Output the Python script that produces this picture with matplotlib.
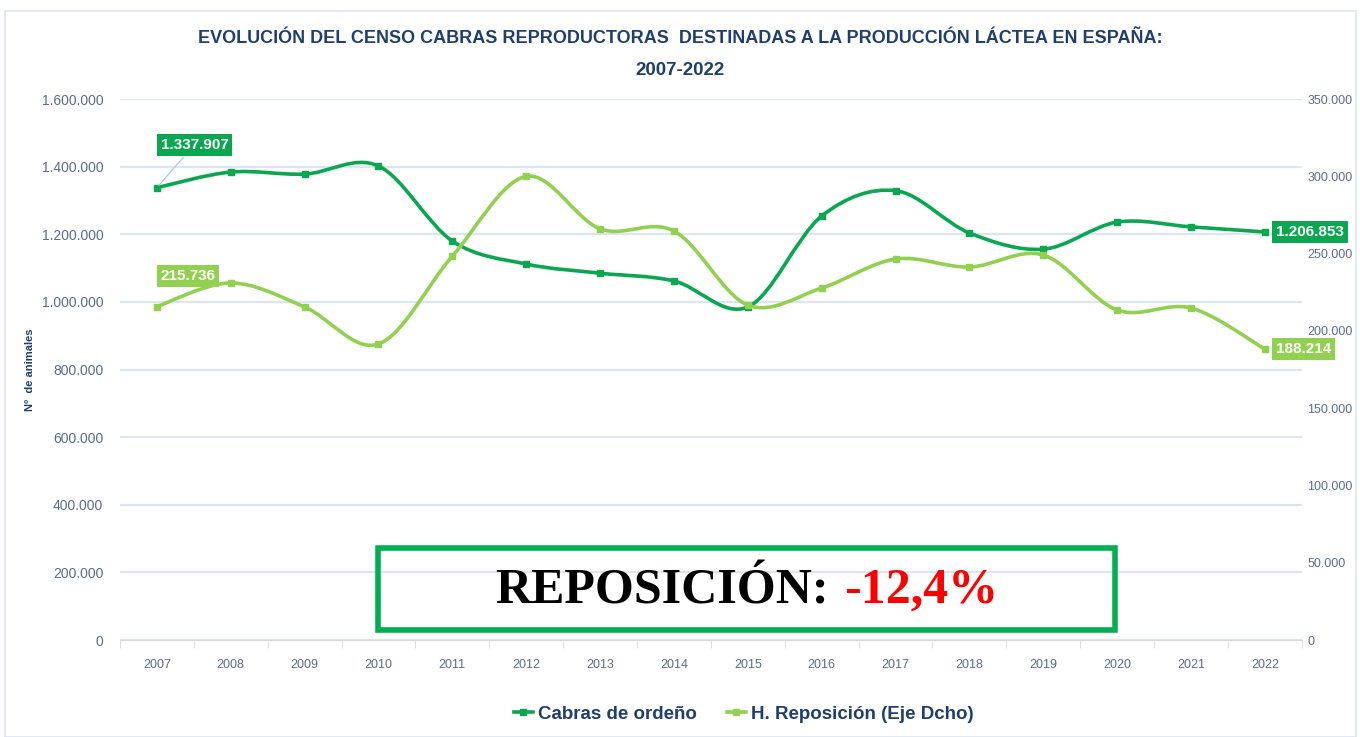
import numpy as np
import matplotlib
matplotlib.use('Agg')
import matplotlib.pyplot as plt
from matplotlib.path import Path
from matplotlib.patches import PathPatch, Rectangle
from matplotlib.lines import Line2D
from matplotlib.ticker import FuncFormatter, MultipleLocator, FixedLocator

years = ['2007', '2008', '2009', '2010', '2011', '2012', '2013', '2014',
         '2015', '2016', '2017', '2018', '2019', '2020', '2021', '2022']
cabras = [1337907, 1384000, 1378000, 1402000, 1180000, 1112000, 1085000, 1062000,
          985000, 1254000, 1329000, 1204000, 1156000, 1236000, 1222000, 1206853]
reposicion = [215736, 231000, 215500, 191500, 248400, 300000, 266000, 264600,
              216700, 227700, 246500, 241300, 249100, 213500, 214800, 188214]

DARK = '#0aa650'
LIGHT = '#92d050'
TXT = '#5b6b8a'
NAVY = '#1f3f6e'

plt.rcParams['font.family'] = ['Liberation Sans', 'DejaVu Sans']


def dots(v, pos=None):
    return f'{v:,.0f}'.replace(',', '.')


def smooth_path(x, y):
    # catmull-rom -> bezier, roughly what excel does with "smoothed line"
    n = len(x)
    verts = [(x[0], y[0])]
    codes = [Path.MOVETO]
    for i in range(n - 1):
        a = i - 1 if i > 0 else i
        d = i + 2 if i + 2 < n else i + 1
        c1 = (x[i] + (x[i + 1] - x[a]) / 6, y[i] + (y[i + 1] - y[a]) / 6)
        c2 = (x[i + 1] - (x[d] - x[i]) / 6, y[i + 1] - (y[d] - y[i]) / 6)
        verts += [c1, c2, (x[i + 1], y[i + 1])]
        codes += [Path.CURVE4] * 3
    return Path(verts, codes)


fig = plt.figure(figsize=(13.6, 7.37), dpi=100)
ax = fig.add_axes([0.0882, 0.1316, 0.869, 0.734])
ax2 = ax.twinx()

x = np.arange(len(years))

ax.add_patch(PathPatch(smooth_path(x, cabras), fill=False, edgecolor=DARK, lw=2.6, zorder=3))
ax.plot(x, cabras, 's', color=DARK, ms=5, zorder=4)
ax2.add_patch(PathPatch(smooth_path(x, reposicion), fill=False, edgecolor=LIGHT, lw=2.6, zorder=3))
ax2.plot(x, reposicion, 's', color=LIGHT, ms=5, zorder=4)

ax.set_xlim(-0.5, len(years) - 0.5)
ax.set_ylim(0, 1600000)
ax2.set_ylim(0, 350000)
ax.yaxis.set_major_locator(MultipleLocator(200000))
ax2.yaxis.set_major_locator(MultipleLocator(50000))
ax.yaxis.set_major_formatter(FuncFormatter(dots))
ax2.yaxis.set_major_formatter(FuncFormatter(dots))

ax.set_xticks(x)
ax.set_xticklabels(years)
ax.xaxis.set_minor_locator(FixedLocator(np.arange(-0.5, len(years), 1)))
ax.tick_params(axis='x', which='major', length=0, pad=14, labelsize=9, labelcolor=TXT)
ax.tick_params(axis='x', which='minor', length=6, color='#d9d9d9')
ax.tick_params(axis='y', length=0, pad=12, labelsize=10, labelcolor=TXT)
ax2.tick_params(axis='y', length=0, pad=4, labelsize=9, labelcolor=TXT)

ax.grid(axis='y', color='#dde5f2', lw=1.6)
ax.set_axisbelow(True)
for a in (ax, ax2):
    for s in ['top', 'right', 'left']:
        a.spines[s].set_visible(False)
ax2.spines['bottom'].set_visible(False)
ax.spines['bottom'].set_color('#d9d9d9')

fig.text(30 / 1360, 1 - 370 / 737, 'Nº  de animales', rotation=90, ha='center', va='center',
         fontsize=8, color=NAVY, fontweight='bold')

# data labels
ax.annotate(dots(cabras[0]), xy=(x[0], cabras[0]), xytext=(x[0] + 0.05, 1465000),
            ha='left', va='center', color='white', fontsize=11, fontweight='bold',
            bbox=dict(boxstyle='square,pad=0.25', fc=DARK, ec='none'),
            arrowprops=dict(arrowstyle='-', color='#9fc3e8', lw=0.8), zorder=5)
ax2.annotate(dots(reposicion[0]), xy=(x[0], reposicion[0]), xytext=(x[0] + 0.05, 235500),
             ha='left', va='center', color='white', fontsize=11, fontweight='bold',
             bbox=dict(boxstyle='square,pad=0.25', fc=LIGHT, ec='none'), zorder=5)
ax.annotate(dots(cabras[-1]), xy=(x[-1], cabras[-1]), xytext=(8, 0), textcoords='offset points',
            ha='left', va='center', color='white', fontsize=11, fontweight='bold',
            bbox=dict(boxstyle='square,pad=0.25', fc=DARK, ec='none'), zorder=5)
ax2.annotate(dots(reposicion[-1]), xy=(x[-1], reposicion[-1]), xytext=(8, 0), textcoords='offset points',
             ha='left', va='center', color='white', fontsize=11, fontweight='bold',
             bbox=dict(boxstyle='square,pad=0.25', fc=LIGHT, ec='none'), zorder=5)

fig.text(0.5, 0.948, 'EVOLUCIÓN DEL CENSO CABRAS REPRODUCTORAS  DESTINADAS A LA PRODUCCIÓN LÁCTEA EN ESPAÑA:',
         ha='center', va='center', fontsize=13, fontweight='bold', color=NAVY)
fig.text(0.5, 0.905, '2007-2022', ha='center', va='center', fontsize=13.5, fontweight='bold', color=NAVY)

handles = [Line2D([], [], color=DARK, lw=2.6, marker='s', ms=5),
           Line2D([], [], color=LIGHT, lw=2.6, marker='s', ms=5)]
leg = fig.legend(handles, ['Cabras de ordeño', 'H. Reposición (Eje Dcho)'], loc='center',
                 bbox_to_anchor=(0.547, 0.031), ncol=2, frameon=False, handlelength=1.0,
                 handletextpad=0.3, columnspacing=1.6, prop=dict(size=13.5, weight='bold'))
for t in leg.get_texts():
    t.set_color(NAVY)

# highlighted box
fig.patches.append(Rectangle((0.278, 0.145), 0.542, 0.111, transform=fig.transFigure,
                             fill=False, ec='#00b050', lw=4, zorder=6))
serif = ['Liberation Serif', 'DejaVu Serif']
t1 = fig.text(0.358, 0.198, 'REPOSICIÓN:', ha='left', va='center', fontsize=36,
              fontweight='bold', color='black', family=serif, zorder=7)
t2 = fig.text(0.5, 0.198, '-12,4%', ha='left', va='center', fontsize=36,
              fontweight='bold', color='#ff0000', family=serif, zorder=7)
fig.canvas.draw()
inv = fig.transFigure.inverted()
w1 = t1.get_window_extent().transformed(inv).width
w2 = t2.get_window_extent().transformed(inv).width
gap = 0.011
start = 0.549 - (w1 + gap + w2) / 2
t1.set_x(start)
t2.set_x(start + w1 + gap)

# outer frame
fig.patches.append(Rectangle((0.004, 0.0), 0.993, 0.985, transform=fig.transFigure,
                             fill=False, ec='#dce6f2', lw=1.2))

fig.savefig('out.png', dpi=100)
